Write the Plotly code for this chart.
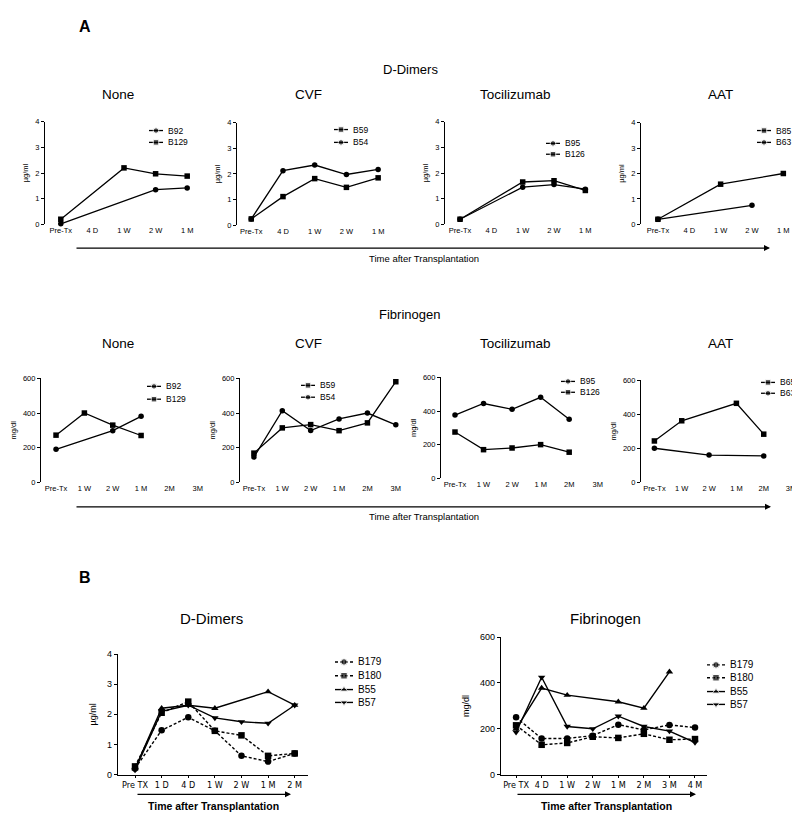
import plotly.graph_objects as go

W, H = 800, 814
FONT = "Liberation Sans, Arial, sans-serif"
NARROW = "Liberation Sans Narrow, Arial Narrow, DejaVu Sans Condensed, Liberation Sans, sans-serif"

# ---------------- data ----------------
dd_cats = ["Pre-Tx", "4 D", "1 W", "2 W", "1 M"]
fib_cats = ["Pre-Tx", "1 W", "2 W", "1 M", "2M", "3M"]
b_dd_cats = ["Pre TX", "1 D", "4 D", "1 W", "2 W", "1 M", "2 M"]
b_fib_cats = ["Pre TX", "4 D", "1 W", "2 W", "1 M", "2 M", "3 M", "4 M"]

dd_ticks = [0, 1, 2, 3, 4]
fib_ticks = [0, 200, 400, 600]

# Panel A - D-Dimers (ug/ml)
dd_none_B92 = [0.02, None, None, 1.35, 1.42]
dd_none_B129 = [0.2, None, 2.2, 1.97, 1.88]
dd_cvf_B59 = [0.25, 1.12, 1.82, 1.48, 1.85]
dd_cvf_B54 = [0.25, 2.13, 2.35, 1.98, 2.18]
dd_toc_B95 = [0.2, None, 1.45, 1.55, 1.37]
dd_toc_B126 = [0.2, None, 1.65, 1.7, 1.32]
dd_aat_B85 = [0.2, None, 1.58, None, 2.0]
dd_aat_B63 = [0.2, None, None, 0.75, None]

# Panel A - Fibrinogen (mg/dl)
fib_none_B92 = [190, None, 298, 381, None, None]
fib_none_B129 = [272, 400, 330, 270, None, None]
fib_cvf_B59 = [168, 314, 333, 298, 343, 581]
fib_cvf_B54 = [145, 413, 299, 366, 400, 332]
fib_toc_B95 = [376, 445, 410, 482, 351, None]
fib_toc_B126 = [275, 170, 180, 200, 155, None]
fib_aat_B65 = [243, 362, None, 465, 283, None]
fib_aat_B63 = [200, None, 160, None, 155, None]

# Panel B
b_dd_B179 = [0.2, 1.47, 1.9, 1.45, 0.62, 0.43, 0.7]
b_dd_B180 = [0.27, 2.05, 2.42, 1.45, 1.3, 0.62, 0.7]
b_dd_B55 = [0.2, 2.2, 2.3, 2.2, None, 2.75, 2.3]
b_dd_B57 = [0.15, 2.1, 2.3, 1.88, 1.75, 1.7, 2.3]

b_fib_B179 = [250, 157, 158, 170, 218, 195, 217, 205]
b_fib_B180 = [215, 130, 138, 165, 160, 178, 152, 155]
b_fib_B55 = [200, 378, 347, None, 318, 290, 449, None]
b_fib_B57 = [185, 425, 210, 200, 255, 210, 190, 140]

# ---------------- panel definitions ----------------
panels = [
    dict(cats=dd_cats, ymax=4, ticks=dd_ticks, ylab="µg/ml",
         series=[("B92", dd_none_B92, "circle", "solid"), ("B129", dd_none_B129, "square", "solid")]),
    dict(cats=dd_cats, ymax=4, ticks=dd_ticks, ylab="µg/ml",
         series=[("B59", dd_cvf_B59, "square", "solid"), ("B54", dd_cvf_B54, "circle", "solid")]),
    dict(cats=dd_cats, ymax=4, ticks=dd_ticks, ylab="µg/ml",
         series=[("B95", dd_toc_B95, "circle", "solid"), ("B126", dd_toc_B126, "square", "solid")]),
    dict(cats=dd_cats, ymax=4, ticks=dd_ticks, ylab="µg/ml",
         series=[("B85", dd_aat_B85, "square", "solid"), ("B63", dd_aat_B63, "circle", "solid")]),
    dict(cats=fib_cats, ymax=600, ticks=fib_ticks, ylab="mg/dl",
         series=[("B92", fib_none_B92, "circle", "solid"), ("B129", fib_none_B129, "square", "solid")]),
    dict(cats=fib_cats, ymax=600, ticks=fib_ticks, ylab="mg/dl",
         series=[("B59", fib_cvf_B59, "square", "solid"), ("B54", fib_cvf_B54, "circle", "solid")]),
    dict(cats=fib_cats, ymax=600, ticks=fib_ticks, ylab="mg/dl",
         series=[("B95", fib_toc_B95, "circle", "solid"), ("B126", fib_toc_B126, "square", "solid")]),
    dict(cats=fib_cats, ymax=600, ticks=fib_ticks, ylab="mg/dl",
         series=[("B65", fib_aat_B65, "square", "solid"), ("B63", fib_aat_B63, "circle", "solid")]),
    dict(cats=b_dd_cats, ymax=4, ticks=dd_ticks, ylab="µg/ml",
         series=[("B179", b_dd_B179, "circle", "dash"), ("B180", b_dd_B180, "square", "dash"),
                 ("B55", b_dd_B55, "triangle-up", "solid"), ("B57", b_dd_B57, "triangle-down", "solid")]),
    dict(cats=b_fib_cats, ymax=600, ticks=fib_ticks, ylab="mg/dl",
         series=[("B179", b_fib_B179, "circle", "dash"), ("B180", b_fib_B180, "square", "dash"),
                 ("B55", b_fib_B55, "triangle-up", "solid"), ("B57", b_fib_B57, "triangle-down", "solid")]),
]

# layout (pixel boxes): x0, x1, xrange0, xrange1, ytop, ybot
boxes = [
    (37, 195, -0.5, 4.5, 110, 214),
    (229, 386, -0.45, 4.5, 111, 215),
    (437, 593, -0.48, 4.5, 110, 214),
    (633, 791, -0.54, 4.5, 111, 214),
    (33, 204, -0.53, 5.5, 370, 475),
    (232, 402, -0.49, 5.5, 370, 475),
    (433, 604, -0.49, 5.5, 369, 471),
    (633, 794, -0.49, 5.4, 372, 475),
    (110, 300, -0.64, 6.5, 649, 771),
    (493, 699, -0.59, 7.47, 632, 771),
]
# legend glyph x, rows y
legend_pos = [
    (148, [119, 131]), (333, [118, 131]), (545, [132, 143]), (756, [119, 131]),
    (146, [378, 391]), (300, [377, 389]), (560, [373, 384]), (760, [374, 385]),
    (336, [657, 671, 685, 698]), (708, [660, 673, 687, 700]),
]

fig = go.Figure()
layout = dict(width=W, height=H, margin=dict(l=0, r=0, t=0, b=0),
              paper_bgcolor="white", plot_bgcolor="rgba(0,0,0,0)", showlegend=False,
              font=dict(family=FONT, color="black"))

annotations = []
for i, (p, b) in enumerate(zip(panels, boxes), start=1):
    x0, x1, r0, r1, yt, yb = b
    isB = i > 8
    msize = 6.5 if isB else 5.5
    lw = 1.4 if isB else 1.3
    for name, vals, sym, dash in p["series"]:
        fig.add_trace(go.Scatter(
            x=p["cats"], y=vals, mode="lines+markers", name=name,
            connectgaps=True, cliponaxis=False,
            line=dict(color="black", width=lw, dash="3px,2px" if dash == "dash" else "solid"),
            marker=dict(symbol=sym, size=msize, color="black"),
            xaxis=f"x{i}", yaxis=f"y{i}"))
    sfx = "" if i == 1 else str(i)
    layout[f"xaxis{sfx}"] = dict(
        domain=[x0 / W, x1 / W], anchor=f"y{i}", type="category",
        categoryorder="array", categoryarray=p["cats"], range=[r0, r1],
        showgrid=False, zeroline=False, tickangle=0,
        showline=isB, linecolor="black", linewidth=1.2,
        ticks="outside" if isB else "", ticklen=2, tickcolor="black",
        tickfont=dict(size=9 if isB else 7.5, family=NARROW if isB else FONT))
    layout[f"yaxis{sfx}"] = dict(
        domain=[1 - yb / H, 1 - yt / H], anchor=f"x{i}", range=[0, p["ymax"]],
        tickvals=p["ticks"], showgrid=False, zeroline=False,
        showline=True, linecolor="black", linewidth=1.2,
        ticks="outside", ticklen=3, tickcolor="black", tickwidth=1,
        tickfont=dict(size=9 if isB else 7.5, family=FONT),
        title=dict(text=p["ylab"], font=dict(size=9 if isB else 7.5, family=FONT),
                   standoff=8 if isB else 5))

    # legend
    gx, ys = legend_pos[i - 1]
    half = 9 if isB else 7
    for (name, vals, sym, dash), ly in zip(p["series"], ys):
        fig.add_trace(go.Scatter(
            x=[gx - half, gx, gx + half], y=[ly, ly, ly], mode="lines+markers",
            line=dict(color="black", width=lw, dash="3px,2px" if dash == "dash" else "solid"),
            marker=dict(symbol=sym, size=[0, msize, 0], color="black"),
            xaxis="x11", yaxis="y11", hoverinfo="skip", cliponaxis=False))
        annotations.append(dict(x=gx + half + 3, y=ly, xref="x11", yref="y11", text=name,
                                showarrow=False, xanchor="left", yanchor="middle",
                                font=dict(size=10 if isB else 8.5, family=FONT)))

layout["xaxis11"] = dict(domain=[0, 1], range=[0, W], visible=False, anchor="y11", fixedrange=True)
layout["yaxis11"] = dict(domain=[0, 1], range=[H, 0], visible=False, anchor="x11", fixedrange=True)

def txt(x, y, s, size, bold=False):
    annotations.append(dict(x=x, y=y, xref="x11", yref="y11",
                            text=f"<b>{s}</b>" if bold else s, showarrow=False,
                            xanchor="center", yanchor="middle",
                            font=dict(size=size, family=FONT, color="black")))

def arrow(xs, xe, y):
    annotations.append(dict(x=xe, y=y, ax=xs, ay=y, xref="x11", yref="y11",
                            axref="x11", ayref="y11", text="", showarrow=True,
                            arrowhead=2, arrowsize=1, arrowwidth=1.2, arrowcolor="black"))

txt(77, 14, "A", 16, bold=True)
txt(402, 57, "D-Dimers", 13)
for xx, s in [(110, "None"), (300, "CVF"), (507, "Tocilizumab"), (712, "AAT")]:
    txt(xx, 83, s, 13.5)
    txt(xx, 335, s, 13.5)
txt(401, 305, "Fibrinogen", 13)
arrow(67, 762, 238)
txt(416, 249, "Time after Transplantation", 9.5)
arrow(67, 763, 500)
txt(416, 510, "Time after Transplantation", 9.5)

txt(77, 572, "B", 16, bold=True)
txt(203, 613, "D-Dimers", 15)
txt(597, 613, "Fibrinogen", 15)
arrow(128, 283, 791)
txt(205, 803, "Time after Transplantation", 10.5, bold=True)
arrow(508, 688, 791)
txt(598, 803, "Time after Transplantation", 10.5, bold=True)

layout["annotations"] = annotations
fig.update_layout(**layout)
fig.write_html("out.html")
